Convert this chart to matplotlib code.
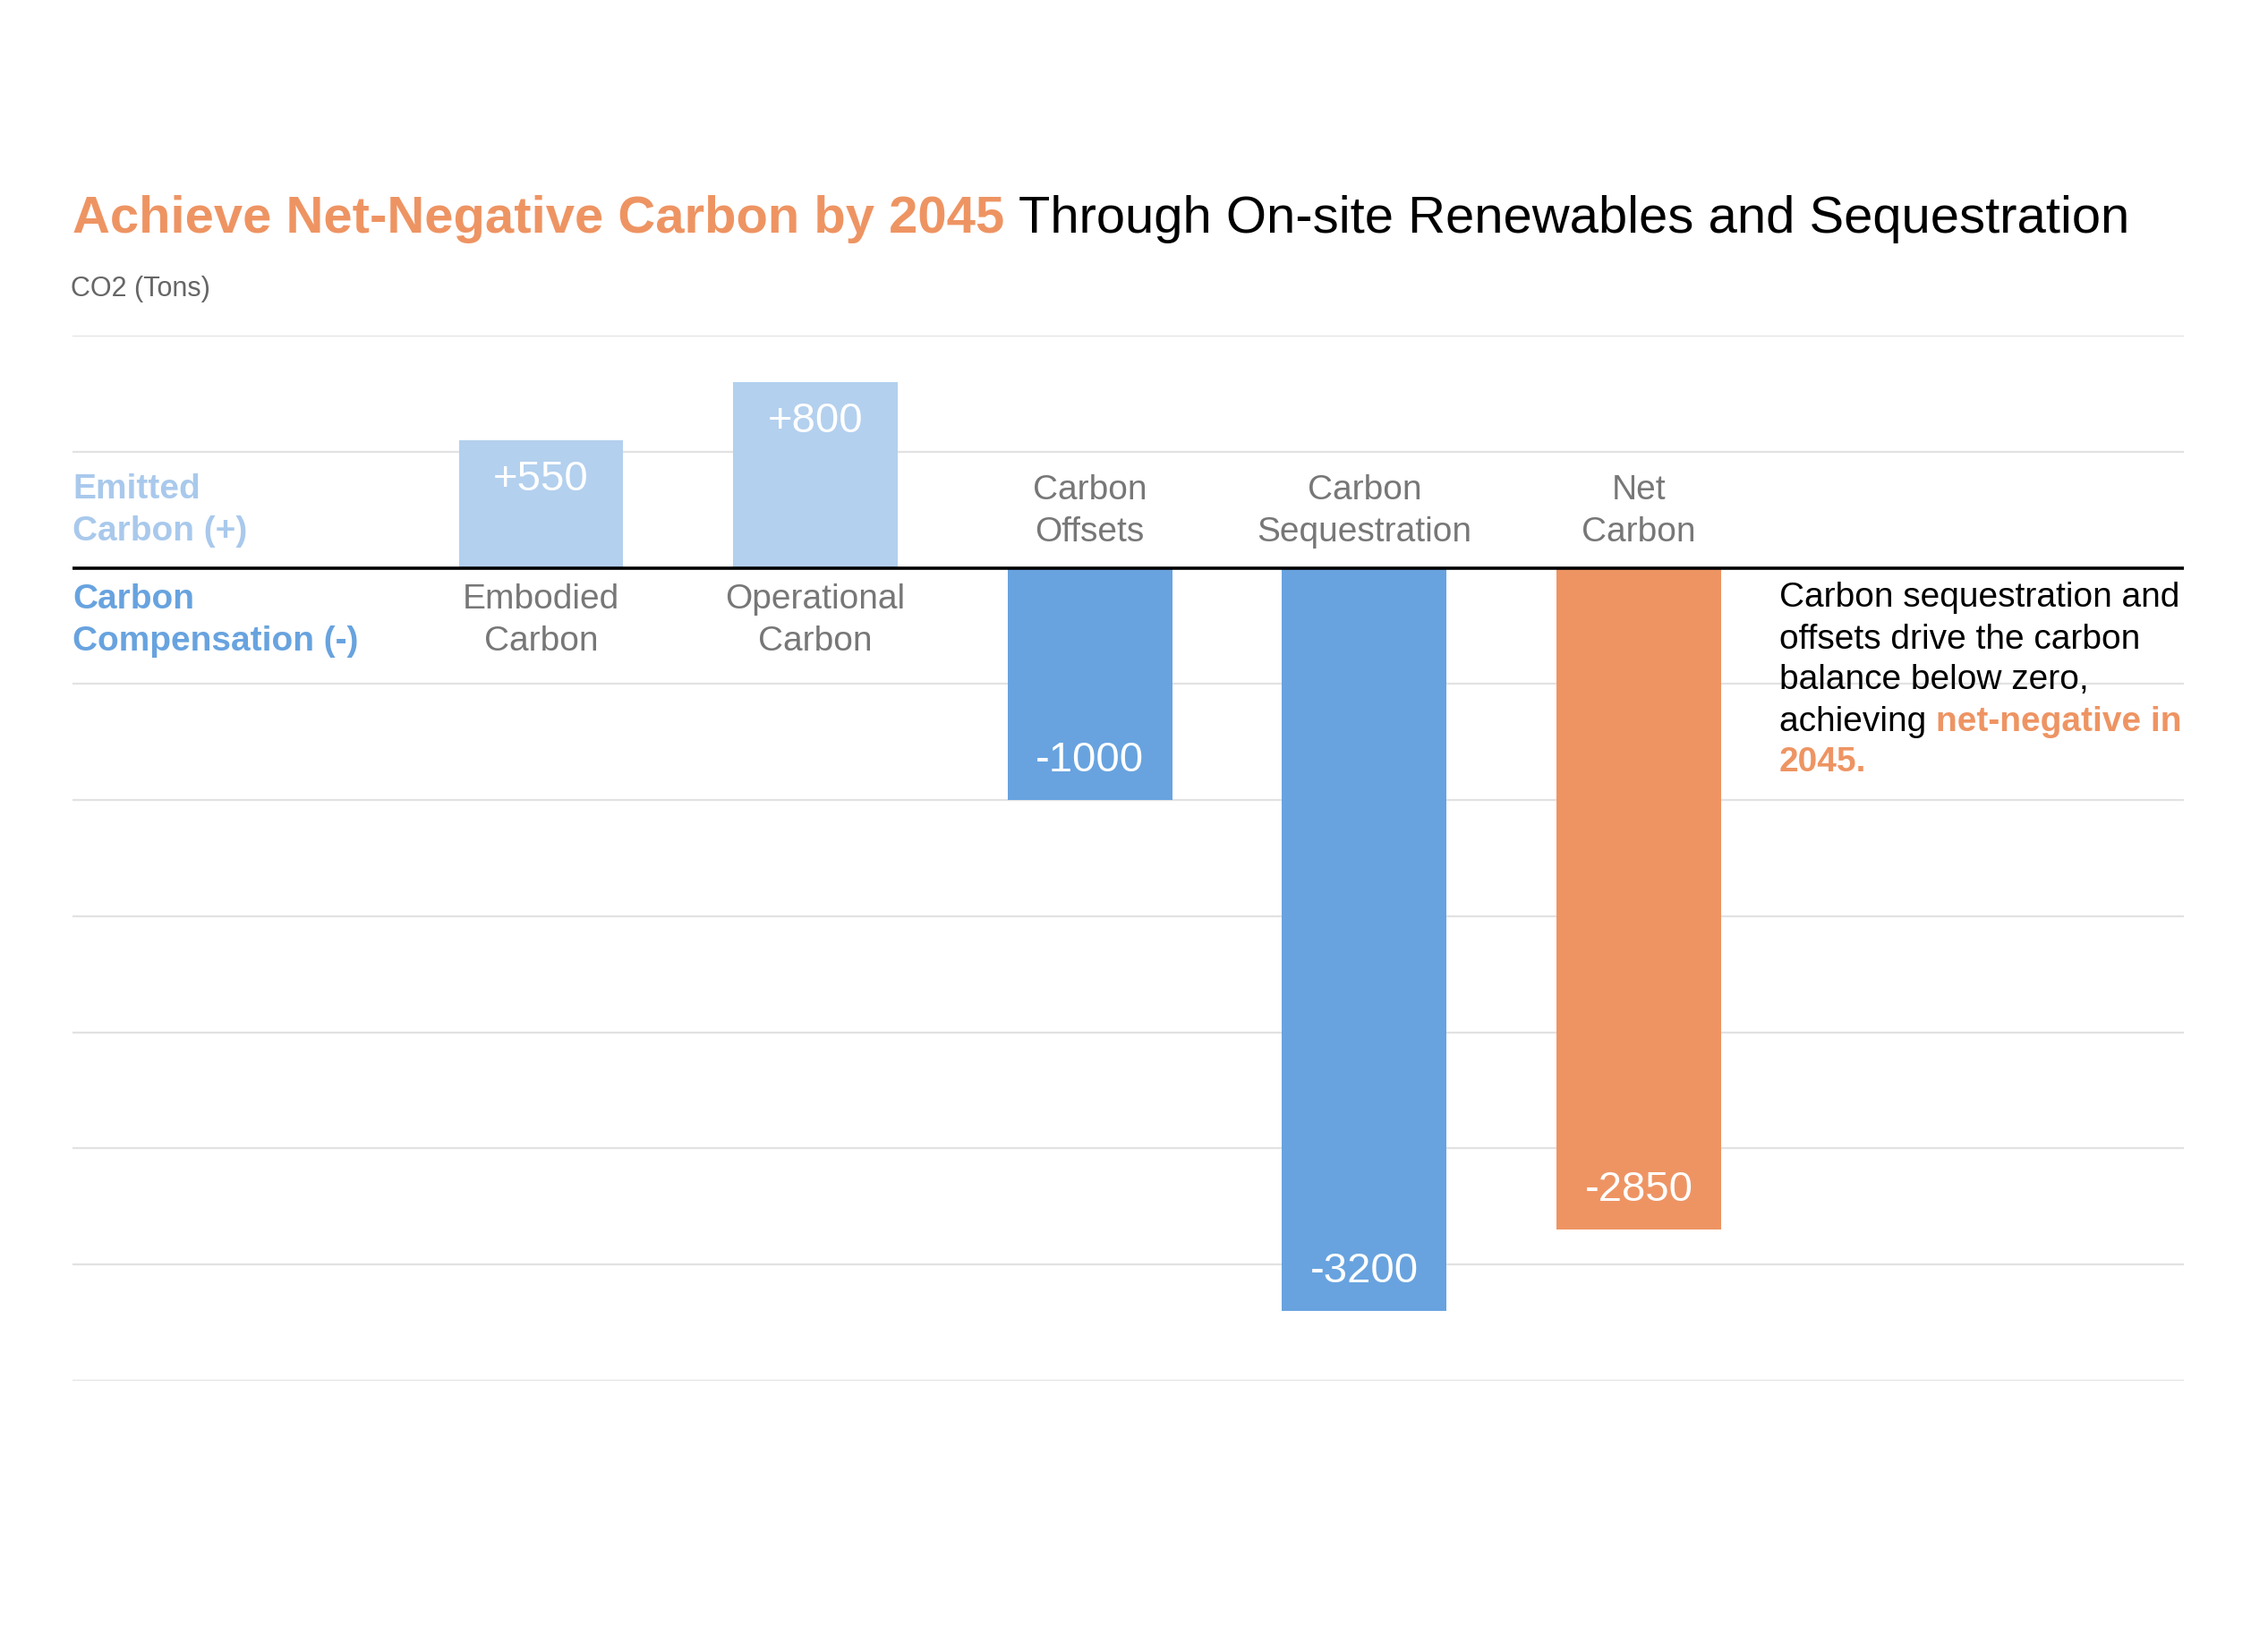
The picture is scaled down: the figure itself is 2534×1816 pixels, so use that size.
import matplotlib.pyplot as plt
import numpy as np

plt.rcParams['font.family'] = ['Liberation Sans', 'DejaVu Sans']

# data
categories = ['Embodied\nCarbon', 'Operational\nCarbon', 'Carbon\nOffsets',
              'Carbon\nSequestration', 'Net\nCarbon']
values = [550, 800, -1000, -3200, -2850]
value_labels = ['+550', '+800', '-1000', '-3200', '-2850']
grid_levels = np.arange(-3500, 1001, 500)

title_bold = 'Achieve Net-Negative Carbon by 2045'
title_rest = 'Through On-site Renewables and Sequestration'
note_lines = ['Carbon sequestration and', 'offsets drive the carbon',
              'balance below zero,', 'achieving ']
note_highlight = ['net-negative in', '2045.']

light_blue = '#B3D0EE'
blue = '#68A3DF'
orange = '#EE9463'
gray = '#777777'
colors = [light_blue, light_blue, blue, blue, orange]

fig = plt.figure(figsize=(12.67, 9.08), dpi=200)
ax = fig.add_axes([0.032, 0.1503, 0.931, 0.6432])
x = np.arange(len(values))
ax.set_xlim(-1.707, 5.987)
ax.set_ylim(-3500, 1000)
ax.axis('off')

for g in grid_levels:
    if g != 0:
        ax.axhline(g, color='#e2e2e2', lw=0.8, zorder=0)
ax.bar(x, values, width=0.6, color=colors, zorder=2)
ax.axhline(0, color='black', lw=1.3, zorder=3)

# value labels inside bar ends
for xi, v, lab in zip(x, values, value_labels):
    off = -16 if v > 0 else 16
    ax.annotate(lab, (xi, v), xytext=(0, off), textcoords='offset points',
                ha='center', va='center', color='white', fontsize=17, zorder=4)

# category labels on the opposite side of the zero line
for xi, v, cat in zip(x, values, categories):
    y = -227 if v > 0 else 243
    ax.text(xi, y, cat, ha='center', va='center', color=gray, fontsize=14,
            linespacing=1.4)

# side labels
ax.text(-1.707, 246, 'Emitted\nCarbon (+)', ha='left', va='center',
        color='#A9C9EC', fontsize=14, fontweight='bold', linespacing=1.4)
ax.text(-1.707, -227, 'Carbon\nCompensation (-)', ha='left', va='center',
        color=blue, fontsize=14, fontweight='bold', linespacing=1.4)

# title
t1 = fig.text(0.032, 0.8568, title_bold, color=orange, fontsize=20.9,
              fontweight='bold', va='baseline')
fig.canvas.draw()
r = fig.canvas.get_renderer()
bb = t1.get_window_extent(r)
fig.text((bb.x1 + 16) / fig.bbox.width, 0.8568, title_rest, color='black',
         fontsize=20.9, va='baseline')
fig.text(0.031, 0.8177, 'CO2 (Tons)', color='#666666', fontsize=11,
         va='baseline')

# note on the right
nx = 0.7845
base = [678, 725, 770, 817, 862]
for i, line in enumerate(note_lines):
    t = fig.text(nx, 1 - base[i] / 1816, line, color='black', fontsize=14,
                 va='baseline')
bb = t.get_window_extent(r)
fig.text(bb.x1 / fig.bbox.width, 1 - base[3] / 1816, note_highlight[0],
         color=orange, fontsize=14, fontweight='bold', va='baseline')
fig.text(nx, 1 - base[4] / 1816, note_highlight[1], color=orange,
         fontsize=14, fontweight='bold', va='baseline')

fig.savefig('out.png', dpi=200, facecolor='white')
